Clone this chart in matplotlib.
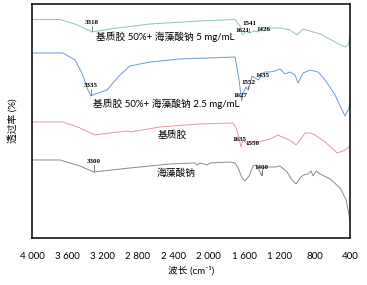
import numpy as np
import matplotlib
matplotlib.use("Agg")
import matplotlib.pyplot as plt
from matplotlib.ticker import FuncFormatter

plt.rcParams['font.family'] = ['Lato', 'Noto Sans CJK SC', 'DejaVu Sans']

# 基质胶 50% + 海藻酸钠 5 mg/mL
wn_g = [4000, 3683, 3513, 3318, 3117, 2664, 2098, 1702, 1645, 1621, 1577, 1541, 1487, 1426,
        1396, 1193, 1079, 1000, 932, 740, 570, 457, 423, 400]
t_g = [218.5, 218.5, 214, 206, 209, 214, 217, 218.5, 212, 203, 207, 205, 207, 206,
       210, 210, 208, 203, 209, 204, 196, 191, 193, 202]

# 基质胶 50% + 海藻酸钠 2.5 mg/mL
wn_b = [4000, 3649, 3513, 3434, 3366, 3335, 3287, 3151, 3004, 2891, 2664, 2325, 1702, 1679,
        1657, 1627, 1611, 1577, 1552, 1509, 1475, 1435, 1407, 1362, 1306, 1249, 1193, 1136,
        1079, 1023, 989, 932, 853, 763, 683, 570, 513, 457, 412, 400]
t_b = [185, 185, 178, 165, 148, 142, 144, 148, 163, 172, 176, 179, 181, 170,
       158, 137, 145, 151, 148, 162, 160, 158, 164, 166, 166, 167, 169, 164,
       166, 163, 155, 165, 168, 166, 158, 143, 132, 122, 130, 136]

# 基质胶
wn_r = [4000, 3649, 3457, 3287, 3117, 2913, 2891, 2551, 2098, 1724, 1690, 1657, 1635, 1611,
        1577, 1550, 1487, 1442, 1396, 1306, 1215, 1170, 1113, 1057, 1011, 966, 909, 853,
        797, 683, 547, 479, 412, 400]
t_r = [116, 116, 110, 103, 105, 107, 106, 111, 114, 115, 110, 100, 91, 98,
       95, 93, 96, 96, 97, 99, 103, 101, 99, 96, 93, 98, 105, 105,
       103, 96, 85, 87, 91, 92]

# 海藻酸钠
wn_k = [4000, 3683, 3457, 3300, 2891, 2438, 2155, 2132, 2098, 2019, 1985, 1758, 1702, 1668,
        1622, 1588, 1543, 1498, 1464, 1430, 1400, 1385, 1340, 1249, 1193, 1113, 1057, 1011,
        966, 932, 876, 842, 819, 785, 740, 627, 513, 445, 423, 400]
t_k = [78, 78, 72, 66, 70, 74, 75, 73, 75, 73, 75, 76, 75, 70,
       60, 57, 62, 72, 73, 68, 62, 70, 71, 71, 72, 66, 58, 54,
       60, 63, 64, 67, 62, 67, 64, 59, 50, 38, 28, 18]

labels = ['基质胶 50%+ 海藻酸钠 5 mg/mL', '基质胶 50%+ 海藻酸钠 2.5 mg/mL', '基质胶', '海藻酸钠']
colors = ['#8fcb9f', '#6b9bd6', '#e39a9a', '#8a8a8a']

fig = plt.figure(figsize=(3.67, 2.85), dpi=100)
ax = fig.add_axes([0.087, 0.165, 0.867, 0.821])

for wn, t, c in zip([wn_g, wn_b, wn_r, wn_k], [t_g, t_b, t_r, t_k], colors):
    ax.plot(wn, t, color=c, lw=0.7)

ax.set_xlim(4000, 400)
ax.set_ylim(0, 234)
ax.set_yticks([])
ax.set_xticks([4000, 3600, 3200, 2800, 2400, 2000, 1600, 1200, 800, 400])
ax.xaxis.set_major_formatter(FuncFormatter(lambda v, p: f'{int(v):,}'.replace(',', ' ')))
ax.tick_params(axis='x', length=0, pad=10, labelsize=7)
for s in ax.spines.values():
    s.set_linewidth(1.1)

ax.set_xlabel('波长 (cm⁻¹)', fontsize=7, labelpad=4)
ax.set_ylabel('透过率 (%)', fontsize=7, labelpad=10)

# curve labels
ax.text(2494, 201, labels[0], fontsize=7, ha='center', va='center')
ax.text(2480, 134, labels[1], fontsize=7, ha='center', va='center')
ax.text(2415, 103, labels[2], fontsize=7, ha='center', va='center')
ax.text(2370, 65, labels[3], fontsize=7, ha='center', va='center')

# peak marks
pk = dict(fontsize=5, family='Liberation Serif', fontweight='bold', ha='center', va='bottom')
marks = [(3318, 207, 212, 3318, 213), (3335, 143, 149, 3335, 150), (3300, 67, 73, 3300, 74),
         (1541, 206, 210, 1541, 212), (1552, 149, 152, 1552, 153), (1400, 63, 67, 1400, 68)]
for x, y0, y1, lx, ly in marks:
    ax.plot([x, x], [y0, y1], color='#555555', lw=0.5)
    ax.text(lx, ly, str(int(lx)), **pk)
ax.text(1621, 205, '1621', **pk)
ax.text(1380, 206, '1426', **pk)
ax.text(1390, 160, '1435', **pk)
ax.text(1640, 140, '1627', **pk)
ax.text(1650, 96, '1635', **pk)
ax.text(1500, 92, '1550', **pk)

fig.savefig('out.png', dpi=100)
